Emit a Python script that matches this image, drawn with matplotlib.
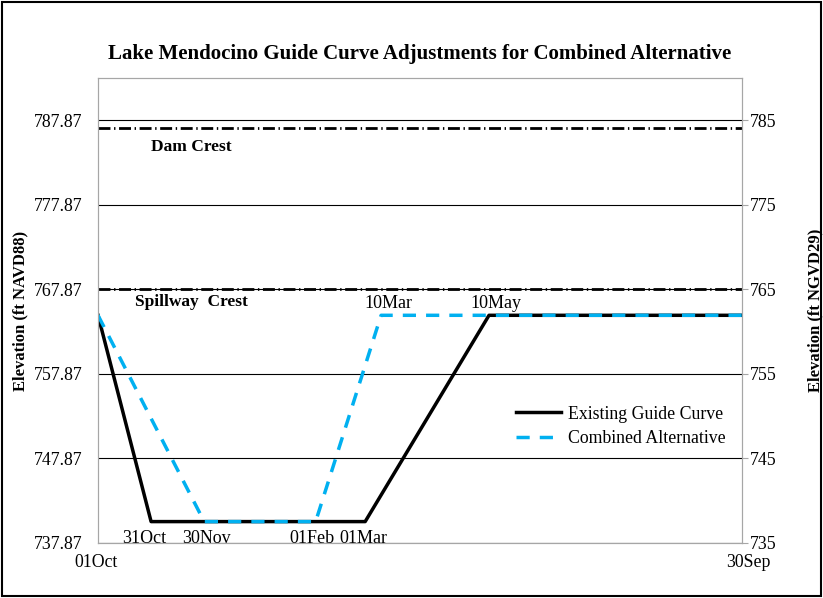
import matplotlib.pyplot as plt
import matplotlib.transforms as mtransforms
from matplotlib.patches import Rectangle

plt.rcParams['font.family'] = ['Liberation Serif', 'DejaVu Serif']

# days after 01Oct
existing_days = [0, 30, 151, 221, 364]
existing_elev = [764.8, 740.4, 740.4, 764.8, 764.8]
combined_days = [0, 60, 123, 160, 364]
combined_elev = [764.8, 740.4, 740.4, 764.8, 764.8]

dam_crest = 786.9
spillway_crest = 767.87
datum_shift = 2.87   # NAVD88 - NGVD29

xtick_days = [0, 364]
xtick_labels = ['01Oct', '30Sep']
left_ticks = [737.87, 747.87, 757.87, 767.87, 777.87, 787.87]
right_ticks = [735, 745, 755, 765, 775, 785]

# (label x in days, text)
low_labels = [(26, '31Oct'), (61, '30Nov'), (121, '01Feb'), (150, '01Mar')]
high_labels = [(164, '10Mar'), (225, '10May')]

fig = plt.figure(figsize=(8.23, 5.98), dpi=100)
ax = fig.add_axes([0.1191, 0.092, 0.7825, 0.7776])

for y in left_ticks:
    ax.axhline(y, color='black', lw=0.8, zorder=1)

crest_style = (0, (4.3, 1.3, 0.5, 1.3))
ax.axhline(dam_crest, color='black', lw=2.0, ls=crest_style, zorder=2)
ax.axhline(spillway_crest, color='black', lw=2.0, ls=crest_style, zorder=2)

ax.plot(existing_days, existing_elev, color='black', lw=2.5, label='Existing Guide Curve', zorder=3)
ax.plot(combined_days, combined_elev, color='#00B0F0', lw=2.5, ls=(0, (3.8, 2.9)),
        label='Combined Alternative', zorder=4)

ax.set_xlim(0, 364)
ax.set_ylim(737.87, 792.87)
ax.set_xticks(xtick_days)
ax.set_xticklabels(xtick_labels)
ax.set_yticks(left_ticks)
ax.set_yticklabels(['%.2f' % t for t in left_ticks])
ax.tick_params(axis='y', length=0, labelsize=12.8, pad=11)
ax.tick_params(axis='x', length=0, labelsize=12.8, pad=8)
xl = ax.get_xticklabels()
xl[0].set_transform(xl[0].get_transform() + mtransforms.ScaledTranslation(-2 / 100, 0, fig.dpi_scale_trans))
xl[1].set_transform(xl[1].get_transform() + mtransforms.ScaledTranslation(6 / 100, 0, fig.dpi_scale_trans))
for s in ax.spines.values():
    s.set_color('#A6A6A6')

ax2 = ax.twinx()
ax2.set_ylim(737.87 - datum_shift, 792.87 - datum_shift)
ax2.set_yticks(right_ticks)
ax2.tick_params(axis='y', length=4, color='#A6A6A6', labelsize=12.8, pad=1.5)
for s in ax2.spines.values():
    s.set_color('#A6A6A6')

ax.set_ylabel('Elevation (ft NAVD88)', fontsize=12, fontweight='bold', labelpad=4)
ax2.set_ylabel('Elevation (ft NGVD29)', fontsize=12, fontweight='bold', labelpad=22)
ax.set_title('Lake Mendocino Guide Curve Adjustments for Combined Alternative',
             fontsize=15, fontweight='bold', pad=14)

for d, t in low_labels:
    ax.text(d, 739.4, t, fontsize=13, ha='center', va='top')
for d, t in high_labels:
    ax.text(d, 765.2, t, fontsize=13, ha='center', va='bottom')

ax.text(53, dam_crest - 1.2, 'Dam Crest', fontsize=12.5, fontweight='bold', ha='center', va='top')
ax.text(53, spillway_crest - 0.5, 'Spillway  Crest', fontsize=12.5, fontweight='bold', ha='center', va='top')

ax.legend(loc='center right', bbox_to_anchor=(0.999, 0.251), frameon=False, fontsize=12.8,
          handlelength=2.5, handletextpad=0.4, labelspacing=0.42)

fig.patches.append(Rectangle((0.002, 0.003), 0.995, 0.993, transform=fig.transFigure,
                             fill=False, edgecolor='black', lw=1.5))

fig.savefig('out.png', dpi=100)
